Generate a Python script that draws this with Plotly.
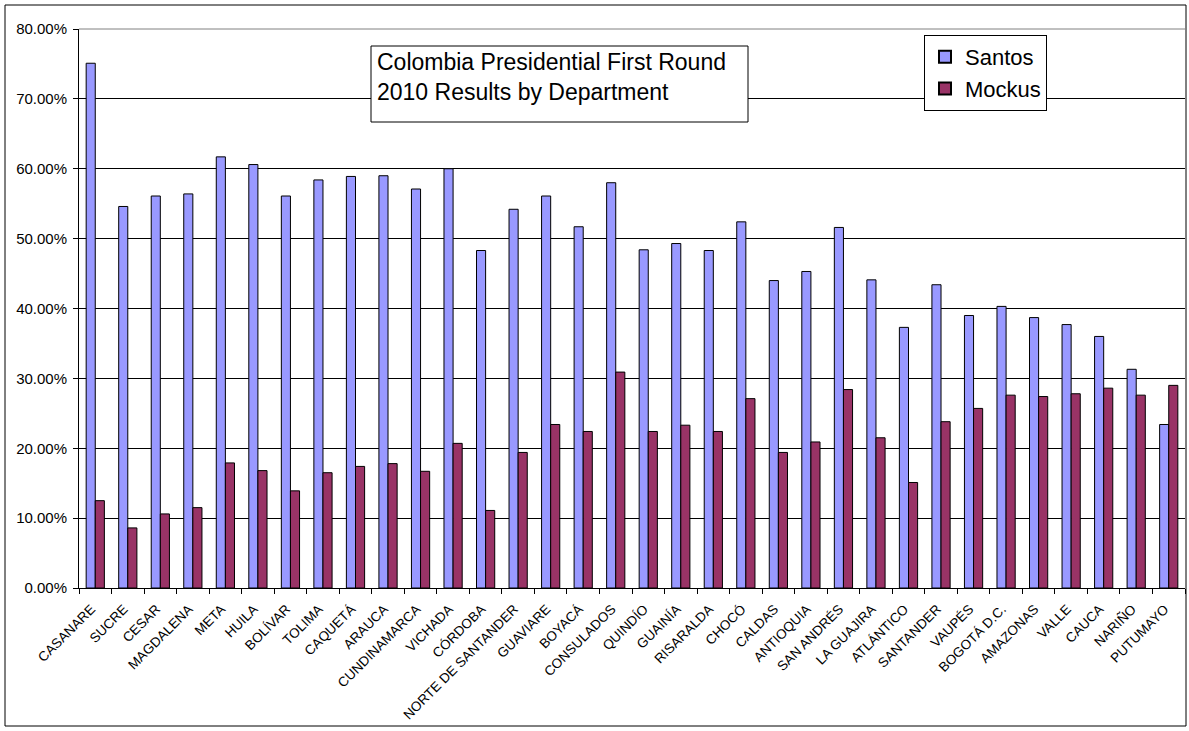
import plotly.graph_objects as go

departments = ["CASANARE", "SUCRE", "CESAR", "MAGDALENA", "META", "HUILA", "BOLÍVAR",
               "TOLIMA", "CAQUETÁ", "ARAUCA", "CUNDINAMARCA", "VICHADA", "CÓRDOBA",
               "NORTE DE SANTANDER", "GUAVIARE", "BOYACÁ", "CONSULADOS", "QUINDÍO",
               "GUAINÍA", "RISARALDA", "CHOCÓ", "CALDAS", "ANTIOQUIA", "SAN ANDRÉS",
               "LA GUAJIRA", "ATLÁNTICO", "SANTANDER", "VAUPÉS", "BOGOTÁ D.C.",
               "AMAZONAS", "VALLE", "CAUCA", "NARIÑO", "PUTUMAYO"]

santos_pct = [75.1, 54.6, 56.1, 56.4, 61.7, 60.6, 56.1, 58.4, 58.9, 59.0, 57.1, 60.0,
              48.3, 54.2, 56.1, 51.7, 58.0, 48.4, 49.3, 48.3, 52.4, 44.0, 45.3, 51.6,
              44.1, 37.3, 43.4, 39.0, 40.3, 38.7, 37.7, 36.0, 31.3, 23.4]

mockus_pct = [12.5, 8.6, 10.6, 11.5, 17.9, 16.8, 13.9, 16.5, 17.4, 17.8, 16.7, 20.7,
              11.1, 19.4, 23.4, 22.4, 30.9, 22.4, 23.3, 22.4, 27.1, 19.4, 20.9, 28.4,
              21.5, 15.1, 23.8, 25.7, 27.6, 27.4, 27.8, 28.6, 27.6, 29.0]

y_ticks = [0, 10, 20, 30, 40, 50, 60, 70, 80]

title_lines = ["Colombia Presidential First Round", "2010 Results by Department"]

FONT = "Arial, 'Liberation Sans', sans-serif"

fig = go.Figure()
fig.add_trace(go.Bar(name="Santos", x=departments, y=[v / 100 for v in santos_pct],
                     marker=dict(color="#9999FF", line=dict(color="black", width=1))))
fig.add_trace(go.Bar(name="Mockus", x=departments, y=[v / 100 for v in mockus_pct],
                     marker=dict(color="#993366", line=dict(color="black", width=1))))

W, H = 1189, 731
L, R, T, B = 79, 4, 29, 143
pw, ph = W - L - R, H - T - B


def px(x):
    return (x - L) / pw


def py(y):
    return (H - B - y) / ph


fig.update_layout(
    width=W, height=H,
    margin=dict(l=L, r=R, t=T, b=B, pad=0, autoexpand=False),
    paper_bgcolor="white", plot_bgcolor="white",
    font=dict(family=FONT, color="black"),
    barmode="group", bargap=0.44, bargroupgap=0,
    showlegend=True,
    legend=dict(x=px(924), y=py(35), xanchor="left", yanchor="top",
                bgcolor="white", bordercolor="black", borderwidth=1,
                font=dict(size=22, family=FONT, color="black"),
                itemsizing="constant", tracegroupgap=0),
    xaxis=dict(type="category", tickangle=-45, tickson="boundaries",
               ticks="outside", ticklen=5, tickcolor="black",
               showline=True, linecolor="black", linewidth=1,
               tickfont=dict(size=13.5, family=FONT, color="black"),
               ticklabelstandoff=7, ticklabelshift=-4,
               showgrid=False, automargin=False),
    yaxis=dict(range=[0, 0.8], tickvals=[v / 100 for v in y_ticks], tickformat=".2%",
               ticks="outside", ticklen=5, tickcolor="black",
               showline=True, linecolor="black", linewidth=1,
               showgrid=True, gridcolor="black", gridwidth=1,
               zeroline=False, automargin=False, ticklabelstandoff=3,
               tickfont=dict(size=15, family=FONT, color="black")),
    shapes=[
        # outer chart border
        dict(type="rect", xref="paper", yref="paper", x0=px(5), x1=px(1186),
             y0=py(726), y1=py(5), line=dict(color="black", width=1), layer="above"),
        # grey top border of plot area
        dict(type="line", xref="paper", yref="paper", x0=0, x1=1, y0=1, y1=1,
             line=dict(color="#808080", width=1), layer="above"),
        # title box
        dict(type="rect", xref="paper", yref="paper", x0=px(371), x1=px(748),
             y0=py(122), y1=py(46), line=dict(color="black", width=1),
             fillcolor="white", layer="above"),
    ],
    annotations=[
        dict(xref="paper", yref="paper", x=px(375), y=py(46.5), xanchor="left",
             yanchor="top", align="left", showarrow=False,
             text="<br>".join(title_lines),
             font=dict(size=23, family=FONT, color="black")),
    ],
)

fig.write_html("out.html",
               config={"displayModeBar": False},
               post_script="document.body.style.margin='0';"
                           "document.body.style.overflow='hidden';")
